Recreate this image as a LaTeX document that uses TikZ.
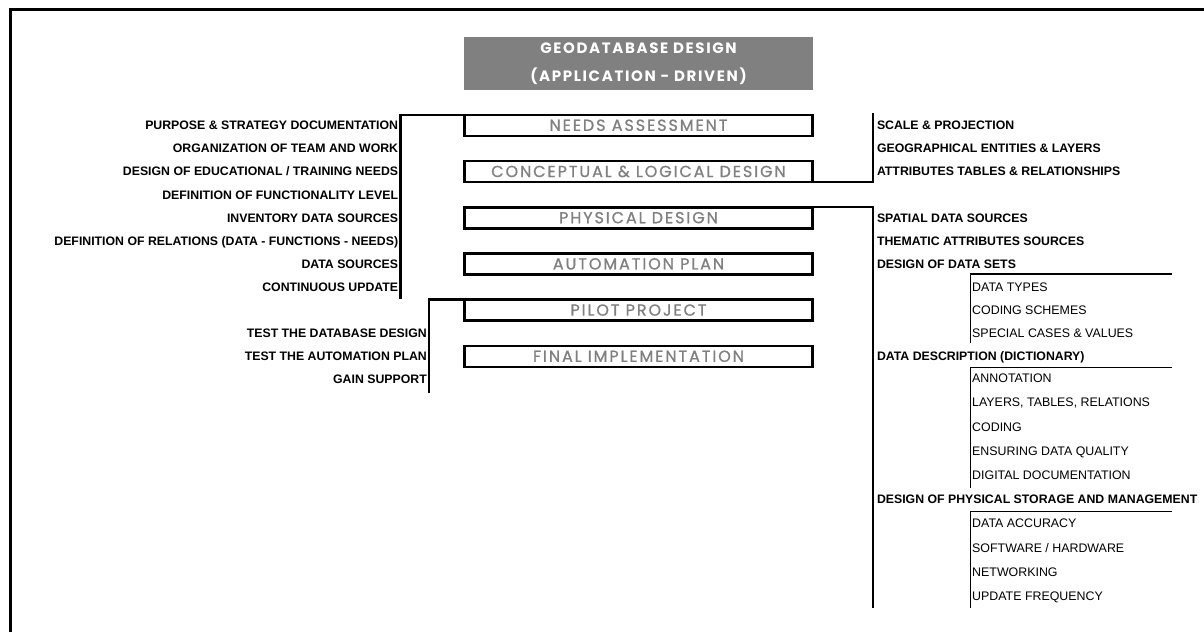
\documentclass[tikz,border=0pt]{standalone}
\usepackage{fontspec}
\setmainfont{Liberation Sans}
\newfontfamily\stagefont[LetterSpace=12, FakeBold=1]{Poppins}
\newfontfamily\titlefont[LetterSpace=11]{Poppins}
\usetikzlibrary{positioning}

\begin{document}
\begin{tikzpicture}[
    x=1pt, y=-1pt,
    title/.style={rectangle, fill=gray, text=white, minimum width=349pt, minimum height=53pt, align=center, inner sep=0pt, font=\titlefont\bfseries\fontsize{15}{28}\selectfont},
    stage/.style={rectangle, draw, line width=2.6pt, outer sep=0pt, inner sep=0pt, minimum width=347.6pt, minimum height=21pt, text height=11.1pt, text depth=0pt, text=gray, font=\stagefont\fontsize{16}{18}\selectfont},
    item/.style={inner sep=0pt, text height=8.8pt, text depth=0pt, font=\bfseries\fontsize{12.3}{14}\selectfont},
    subitem/.style={inner sep=0pt, text height=8.9pt, text depth=0pt, font=\fontsize{12.4}{14}\selectfont},
    bracket/.style={line width=2.5pt},
    subbracket/.style={line width=1.2pt},
    node distance=25.2pt
]
\useasboundingbox (0,0) rectangle (1204,632);

% Frame
\draw[line width=3pt] (10.5,632) -- (10.5,9.7) -- (1204,9.7);

% Title and stages
\node[title] (title) at (638.5,63.5) {GEODATABASE DESIGN\\(APPLICATION - DRIVEN)};
\node[stage] (needs) at (638.5,125.3) {NEEDS ASSESSMENT};
\node[stage, below=of needs] (concept) {CONCEPTUAL \& LOGICAL DESIGN};
\node[stage, below=of concept] (physical) {PHYSICAL DESIGN};
\node[stage, below=of physical] (automation) {AUTOMATION PLAN};
\node[stage, below=of automation] (pilot) {PILOT PROJECT};
\node[stage, below=of pilot] (final) {FINAL IMPLEMENTATION};

% Needs assessment items
\node[item, anchor=east] (purpose) at (398.3,125.3) {PURPOSE \& STRATEGY DOCUMENTATION};
\node[item, anchor=east] (team) at (398.3,148.4) {ORGANIZATION OF TEAM AND WORK};
\node[item, anchor=east] (training) at (398.3,171.5) {DESIGN OF EDUCATIONAL / TRAINING NEEDS};
\node[item, anchor=east] (funclevel) at (398.3,194.6) {DEFINITION OF FUNCTIONALITY LEVEL};
\node[item, anchor=east] (inventory) at (398.3,217.7) {INVENTORY DATA SOURCES};
\node[item, anchor=east] (relations) at (398.3,240.8) {DEFINITION OF RELATIONS (DATA - FUNCTIONS - NEEDS)};
\node[item, anchor=east] (sources) at (398.3,263.9) {DATA SOURCES};
\node[item, anchor=east] (update) at (398.3,287.0) {CONTINUOUS UPDATE};

% Pilot project items
\node[item, anchor=east] (testdb) at (427,333.2) {TEST THE DATABASE DESIGN};
\node[item, anchor=east] (testplan) at (427,356.3) {TEST THE AUTOMATION PLAN};
\node[item, anchor=east] (support) at (427,379.4) {GAIN SUPPORT};

% Conceptual design items
\node[item, anchor=west] (scale) at (876.8,125.3) {SCALE \& PROJECTION};
\node[item, anchor=west] (entities) at (876.8,148.4) {GEOGRAPHICAL ENTITIES \& LAYERS};
\node[item, anchor=west] (attributes) at (876.8,171.5) {ATTRIBUTES TABLES \& RELATIONSHIPS};

% Physical design items
\node[item, anchor=west] (spatial) at (876.8,217.7) {SPATIAL DATA SOURCES};
\node[item, anchor=west] (thematic) at (876.8,240.8) {THEMATIC ATTRIBUTES SOURCES};
\node[item, anchor=west] (datasets) at (876.8,263.9) {DESIGN OF DATA SETS};
\node[subitem, anchor=west] (types) at (972,287.0) {DATA TYPES};
\node[subitem, anchor=west] (schemes) at (972,310.1) {CODING SCHEMES};
\node[subitem, anchor=west] (special) at (972,333.2) {SPECIAL CASES \& VALUES};
\node[item, anchor=west] (dictionary) at (876.8,356.3) {DATA DESCRIPTION (DICTIONARY)};
\node[subitem, anchor=west] (annotation) at (972,378.3) {ANNOTATION};
\node[subitem, anchor=west] (layers) at (972,402.5) {LAYERS, TABLES, RELATIONS};
\node[subitem, anchor=west] (coding) at (972,426.7) {CODING};
\node[subitem, anchor=west] (quality) at (972,450.9) {ENSURING DATA QUALITY};
\node[subitem, anchor=west] (digital) at (972,475.1) {DIGITAL DOCUMENTATION};
\node[item, anchor=west] (storage) at (876.8,499.3) {DESIGN OF PHYSICAL STORAGE AND MANAGEMENT};
\node[subitem, anchor=west] (accuracy) at (972,523.5) {DATA ACCURACY};
\node[subitem, anchor=west] (software) at (972,547.7) {SOFTWARE / HARDWARE};
\node[subitem, anchor=west] (networking) at (972,571.9) {NETWORKING};
\node[subitem, anchor=west] (frequency) at (972,596.1) {UPDATE FREQUENCY};

% Bracket ends
\coordinate (needsend) at (400.5,298.5);
\coordinate (pilotend) at (429,392.7);
\coordinate (conceptend) at (873,113.3);
\coordinate (physend) at (873,608);
\coordinate (datasetstop) at (1171.7,274);
\coordinate (datasetsend) at (970.5,343);
\coordinate (dictionarytop) at (1171.7,367.3);
\coordinate (dictionaryend) at (970.5,488);
\coordinate (storagetop) at (1171.7,511.7);
\coordinate (storageend) at (970.5,608);

% Brackets
\draw[bracket] (needs.north west) -| (needsend);
\draw[bracket] (pilot.north west) -| (pilotend);
\draw[bracket] (concept.south east) -| (conceptend);
\draw[bracket] (physical.north east) -| (physend);
\draw[subbracket] (datasetstop) -| (datasetsend);
\draw[subbracket] (dictionarytop) -| (dictionaryend);
\draw[subbracket] (storagetop) -| (storageend);

\end{tikzpicture}
\end{document}
